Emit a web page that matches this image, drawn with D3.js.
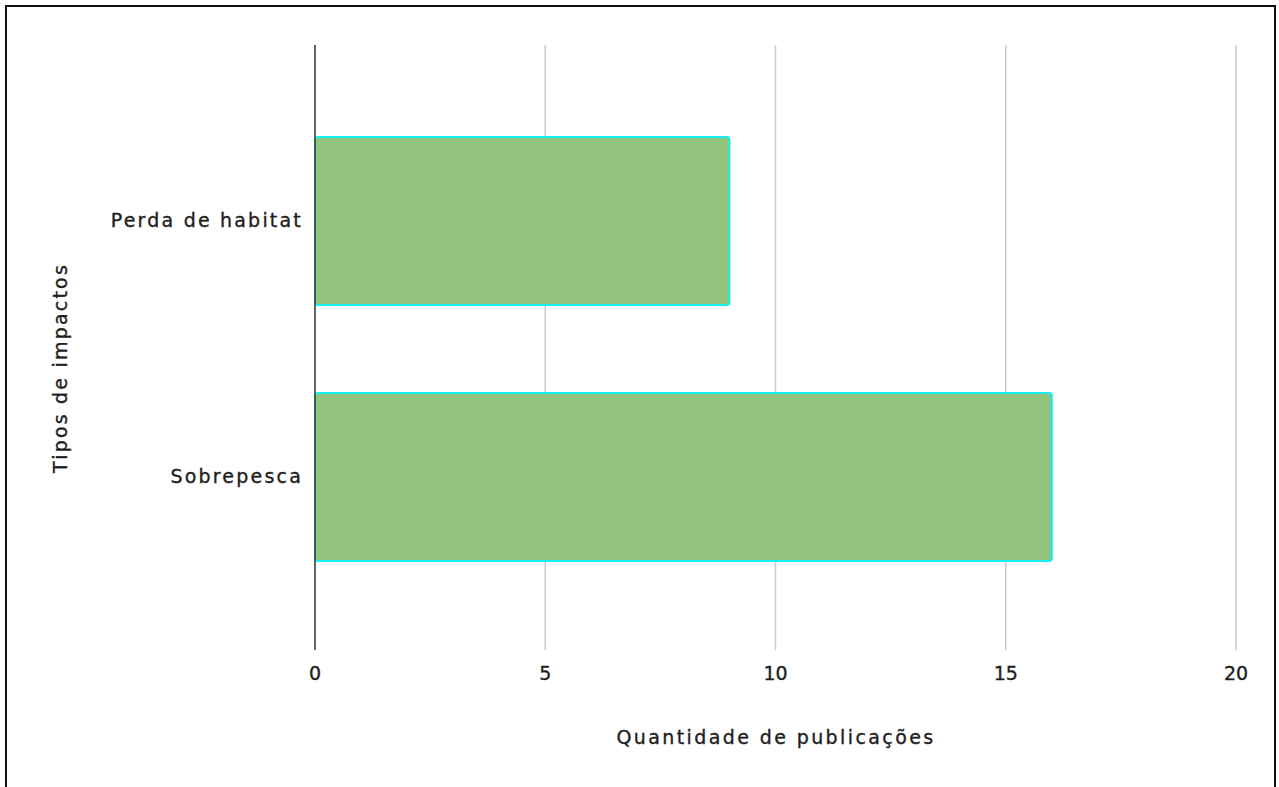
<!DOCTYPE html>
<html>
<head>
<meta charset="utf-8">
<script src="https://cdn.jsdelivr.net/npm/d3@7"></script>
<style>
  body { margin: 0; background: #fff; }
  text { font-family: "DejaVu Sans", sans-serif; fill: #1e1e1e; stroke: #1e1e1e; stroke-width: 0.35px; }
</style>
</head>
<body>
<div id="vis"></div>
<script>
// data
var categories = ['Perda de habitat', 'Sobrepesca'];
var values = [9, 16];
var xTicks = [0, 5, 10, 15, 20];

var width = 1279;
var height = 787;

var svg = d3.select('#vis').append('svg')
  .attr('width', width)
  .attr('height', height);

// frame
svg.append('rect')
  .attr('x', 6).attr('y', 6)
  .attr('width', 1269).attr('height', 790)
  .attr('fill', 'none')
  .attr('stroke', '#111')
  .attr('stroke-width', 2);

var plotTop = 45;
var plotBottom = 650;

var x = d3.scaleLinear().domain([0, 20]).range([315, 1236]);
var y = d3.scaleBand().domain(categories).range([46.5, 651.5])
  .paddingInner(0.34375).paddingOuter(0.3535);

// gridlines
svg.append('g').selectAll('line')
  .data(xTicks.filter(function (d) { return d !== 0; }))
  .enter().append('line')
  .attr('x1', function (d) { return x(d); })
  .attr('x2', function (d) { return x(d); })
  .attr('y1', plotTop)
  .attr('y2', plotBottom)
  .attr('stroke', '#cccccc')
  .attr('stroke-width', 1.5);

// bars
svg.append('g').selectAll('rect')
  .data(categories)
  .enter().append('rect')
  .attr('x', x(0))
  .attr('y', function (d) { return y(d); })
  .attr('width', function (d, i) { return x(values[i]) - x(0); })
  .attr('height', y.bandwidth())
  .attr('rx', 3)
  .attr('fill', '#93c47d')
  .attr('stroke', '#16f0f0')
  .attr('stroke-width', 2);

// zero line
svg.append('line')
  .attr('x1', x(0)).attr('x2', x(0))
  .attr('y1', plotTop).attr('y2', plotBottom)
  .attr('stroke', '#333')
  .attr('stroke-width', 1.5);

// x tick labels
svg.append('g').selectAll('text')
  .data(xTicks)
  .enter().append('text')
  .attr('x', function (d) { return x(d); })
  .attr('y', 680)
  .attr('text-anchor', 'middle')
  .style('font-size', '19px')
  .text(function (d) { return d; });

// y category labels
svg.append('g').selectAll('text')
  .data(categories)
  .enter().append('text')
  .attr('x', 303)
  .attr('y', function (d) { return y(d) + y.bandwidth() / 2; })
  .attr('dy', '0.33em')
  .attr('text-anchor', 'end')
  .style('font-size', '19px')
  .style('letter-spacing', '2.2px')
  .text(function (d) { return d; });

// axis titles
svg.append('text')
  .attr('x', 776)
  .attr('y', 744)
  .attr('text-anchor', 'middle')
  .style('font-size', '19px')
  .style('letter-spacing', '2.4px')
  .text('Quantidade de publicações');

svg.append('text')
  .attr('transform', 'translate(67,368) rotate(-90)')
  .attr('text-anchor', 'middle')
  .style('font-size', '19px')
  .style('letter-spacing', '2.2px')
  .text('Tipos de impactos');
</script>
</body>
</html>
